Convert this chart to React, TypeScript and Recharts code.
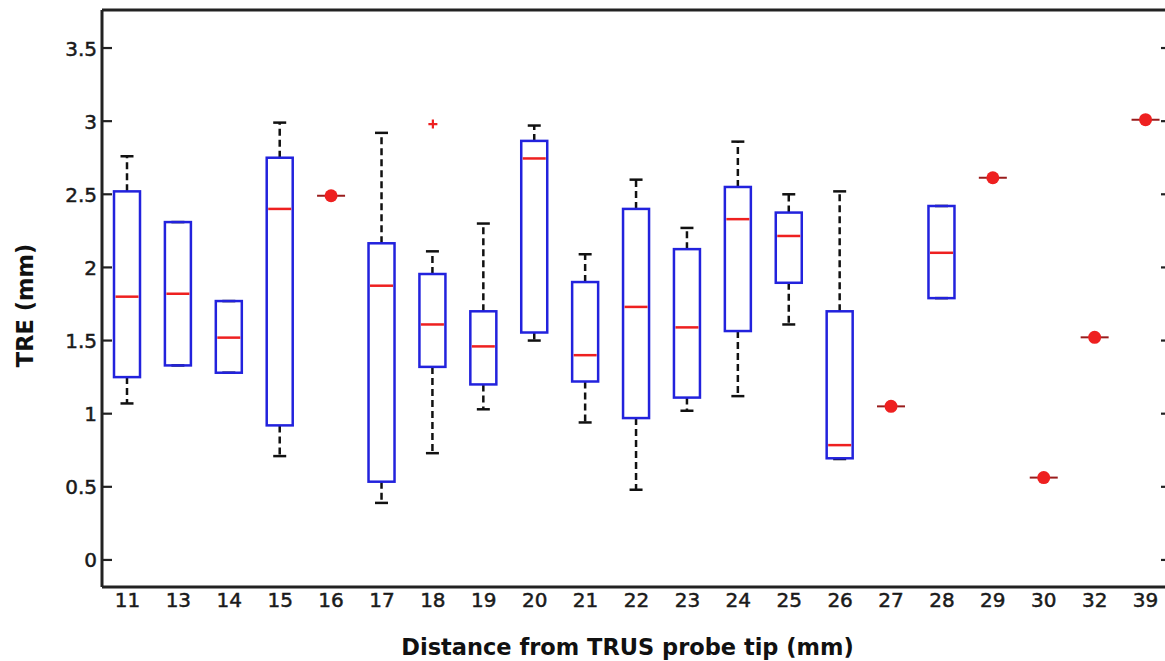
import React from 'react';
import { ComposedChart, Bar, Scatter, XAxis, YAxis, Label, ReferenceLine } from 'recharts';

const categories = ['11', '13', '14', '15', '16', '17', '18', '19', '20', '21', '22', '23', '24', '25', '26', '27', '28', '29', '30', '32', '39'];
const whiskerLow = [1.07, 1.33, 1.28, 0.71, 2.49, 0.39, 0.73, 1.03, 1.5, 0.94, 0.48, 1.02, 1.12, 1.61, 0.69, 1.05, 1.79, 2.613, 0.563, 1.522, 3.01];
const q1 = [1.25, 1.33, 1.28, 0.92, 2.49, 0.535, 1.32, 1.2, 1.555, 1.22, 0.97, 1.11, 1.565, 1.895, 0.695, 1.05, 1.79, 2.613, 0.563, 1.522, 3.01];
const median = [1.8, 1.82, 1.52, 2.4, 2.49, 1.875, 1.61, 1.46, 2.745, 1.4, 1.73, 1.59, 2.33, 2.215, 0.785, 1.05, 2.1, 2.613, 0.563, 1.522, 3.01];
const q3 = [2.52, 2.31, 1.77, 2.75, 2.49, 2.165, 1.955, 1.7, 2.865, 1.9, 2.4, 2.125, 2.55, 2.375, 1.7, 1.05, 2.42, 2.613, 0.563, 1.522, 3.01];
const whiskerHigh = [2.76, 2.31, 1.77, 2.99, 2.49, 2.92, 2.11, 2.3, 2.97, 2.09, 2.6, 2.27, 2.86, 2.5, 2.52, 1.05, 2.42, 2.613, 0.563, 1.522, 3.01];
const outlierCategories = ['18'];
const outlierValues = [2.98];
const yTicks = [0, 0.5, 1, 1.5, 2, 2.5, 3, 3.5];
const yDomain = [-0.185, 3.76];

const data = categories.map((c, i) => {
  const single = whiskerLow[i] === whiskerHigh[i];
  const oi = outlierCategories.indexOf(c);
  return {
    category: c,
    range: single ? null : [whiskerLow[i], whiskerHigh[i]],
    lo: whiskerLow[i],
    hi: whiskerHigh[i],
    q1: q1[i],
    median: median[i],
    q3: q3[i],
    single: single ? median[i] : null,
    outlier: oi >= 0 ? outlierValues[oi] : null,
  };
});

const BLUE = '#2222dd';
const RED = '#ee2020';
const FRAME = '#222';
const FONT = '"DejaVu Sans", sans-serif';

const BoxShape = (props: any) => {
  const { x, y, width, height, payload } = props;
  if (!payload || payload.range == null) return null;
  const lo = payload.lo;
  const hi = payload.hi;
  const top = Math.min(y, y + height);
  const bottom = Math.max(y, y + height);
  const toY = (v: number) => bottom - ((v - lo) / (hi - lo)) * (bottom - top);
  const cx = x + width / 2;
  const capHalf = 6.5;
  const yQ1 = toY(payload.q1);
  const yQ3 = toY(payload.q3);
  const yMed = toY(payload.median);
  const yLo = toY(lo);
  const yHi = toY(hi);
  return (
    <g>
      {yHi < yQ3 - 0.5 && (
        <line x1={cx} x2={cx} y1={yQ3} y2={yHi} stroke="#111" strokeWidth={2.5} strokeDasharray="7 4" />
      )}
      {yLo > yQ1 + 0.5 && (
        <line x1={cx} x2={cx} y1={yQ1} y2={yLo} stroke="#111" strokeWidth={2.5} strokeDasharray="7 4" />
      )}
      <line x1={cx - capHalf} x2={cx + capHalf} y1={yHi} y2={yHi} stroke="#111" strokeWidth={2.5} />
      <line x1={cx - capHalf} x2={cx + capHalf} y1={yLo} y2={yLo} stroke="#111" strokeWidth={2.5} />
      <rect x={x} y={yQ3} width={width} height={yQ1 - yQ3} fill="none" stroke={BLUE} strokeWidth={2.5} />
      <line x1={x + 1.5} x2={x + width - 1.5} y1={yMed} y2={yMed} stroke={RED} strokeWidth={2.5} />
    </g>
  );
};

const DotShape = (props: any) => {
  const { cx, cy } = props;
  if (cx == null || cy == null || !isFinite(cx) || !isFinite(cy)) return null;
  return (
    <g>
      <line x1={cx - 14} x2={cx + 14} y1={cy} y2={cy} stroke="#9a1c1c" strokeWidth={2} />
      <circle cx={cx} cy={cy} r={6.5} fill={RED} />
    </g>
  );
};

const PlusShape = (props: any) => {
  const { cx, cy } = props;
  if (cx == null || cy == null || !isFinite(cx) || !isFinite(cy)) return null;
  return (
    <g stroke={RED} strokeWidth={2.2}>
      <line x1={cx - 4.5} x2={cx + 4.5} y1={cy} y2={cy} />
      <line x1={cx} x2={cx} y1={cy - 4.5} y2={cy + 4.5} />
    </g>
  );
};

const XTick = (props: any) => {
  const { x, y, payload } = props;
  return (
    <text x={x} y={y + 19.5} textAnchor="middle" fontFamily={FONT} fontSize={20} fill="#1a1a1a" stroke="#1a1a1a" strokeWidth={0.5}>
      {payload.value}
    </text>
  );
};

const YTickLeft = (props: any) => {
  const { x, y, payload } = props;
  return (
    <g>
      <line x1={x} x2={x + 10} y1={y} y2={y} stroke={FRAME} strokeWidth={2.2} />
      <text x={x - 5} y={y + 7.5} textAnchor="end" fontFamily={FONT} fontSize={20} fill="#1a1a1a" stroke="#1a1a1a" strokeWidth={0.5}>
        {String(payload.value)}
      </text>
    </g>
  );
};

const YTickRight = (props: any) => {
  const { x, y } = props;
  return <line x1={x - 10} x2={x} y1={y} y2={y} stroke={FRAME} strokeWidth={2.2} />;
};

const XTitle = (props: any) => {
  const vb = props.viewBox || { x: 0, y: 0, width: 0 };
  return (
    <text
      x={vb.x + vb.width / 2 - 9}
      y={vb.y + 68}
      textAnchor="middle"
      fontFamily={FONT}
      fontWeight="bold"
      fontSize={22.5}
      fill="#111"
    >
      Distance from TRUS probe tip (mm)
    </text>
  );
};

const YTitle = (props: any) => {
  const vb = props.viewBox || { x: 0, y: 0, height: 0 };
  const cx = 33;
  const cy = vb.y + vb.height / 2 + 7;
  return (
    <text
      x={cx}
      y={cy}
      transform={`rotate(-90, ${cx}, ${cy})`}
      textAnchor="middle"
      fontFamily={FONT}
      fontWeight="bold"
      fontSize={22.5}
      fill="#111"
    >
      TRE (mm)
    </text>
  );
};

export default function App() {
  return (
    <div style={{ position: 'absolute', left: 0, top: 0, width: 1165, height: 661, overflow: 'hidden', background: '#fff' }}>
      <ComposedChart
        width={1180}
        height={661}
        data={data}
        margin={{ top: 10, right: 0, bottom: 0, left: 0 }}
        barCategoryGap={0}
      >
        <XAxis
          dataKey="category"
          type="category"
          height={74}
          tick={<XTick />}
          tickLine={false}
          tickSize={0}
          tickMargin={0}
          interval={0}
          axisLine={{ stroke: FRAME, strokeWidth: 3 }}
        >
          <Label content={<XTitle />} />
        </XAxis>
        <YAxis
          type="number"
          domain={yDomain}
          ticks={yTicks}
          width={102}
          tick={<YTickLeft />}
          tickLine={false}
          tickSize={0}
          tickMargin={0}
          interval={0}
          allowDataOverflow
          axisLine={{ stroke: FRAME, strokeWidth: 3 }}
        >
          <Label content={<YTitle />} />
        </YAxis>
        <YAxis
          yAxisId="right"
          orientation="right"
          type="number"
          domain={yDomain}
          ticks={yTicks}
          width={9}
          tick={<YTickRight />}
          tickLine={false}
          tickSize={0}
          tickMargin={0}
          interval={0}
          allowDataOverflow
          axisLine={false}
        />
        <ReferenceLine y={yDomain[1]} stroke={FRAME} strokeWidth={3} ifOverflow="visible" />
        <Bar dataKey="range" barSize={26} shape={<BoxShape />} isAnimationActive={false} />
        <Scatter dataKey="single" shape={<DotShape />} isAnimationActive={false} />
        <Scatter dataKey="outlier" shape={<PlusShape />} isAnimationActive={false} />
      </ComposedChart>
    </div>
  );
}
